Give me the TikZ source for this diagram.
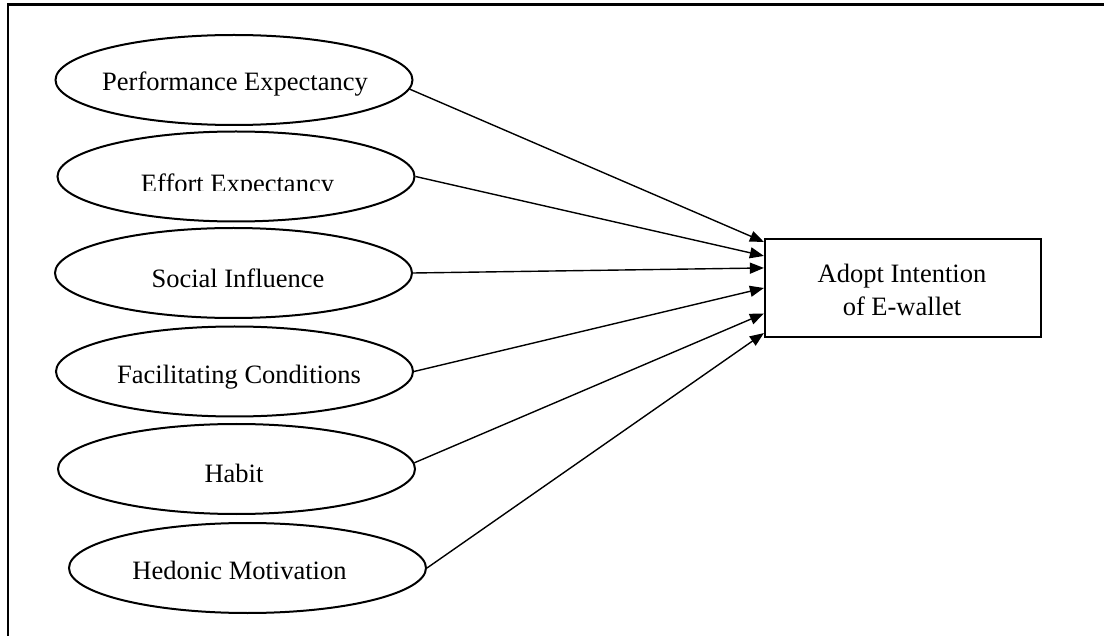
\documentclass[tikz,border=0pt]{standalone}
\usepackage{fontspec}
\setmainfont{Liberation Serif}
\usetikzlibrary{shapes.geometric,arrows.meta,calc}
\begin{document}
\begin{tikzpicture}[x=1pt,y=-1pt,
  construct/.style={draw,ellipse,line width=2pt,inner sep=0pt,minimum width=357pt,minimum height=90pt},
  lbl/.style={anchor=base,inner sep=0pt,font=\fontsize{26.5}{33}\selectfont},
  outcome/.style={draw,rectangle,line width=2.2pt,minimum width=276pt,minimum height=98pt,inner sep=0pt},
  path/.style={line width=1.4pt,-{Triangle[length=14pt,width=11pt]}}]
\useasboundingbox (0,0) rectangle (1104,636);
% outer frame
\draw[line width=2.2pt] (8,4.5) rectangle (1125,660);

% latent constructs
\node[construct] (pe) at (234,80) {};
\node[construct] (ee) at (236,176.5) {};
\node[construct] (si) at (233.5,273) {};
\node[construct] (fc) at (234.5,371.5) {};
\node[construct] (hb) at (236.5,469) {};
\node[construct] (hm) at (247.5,568) {};

\node[lbl] (pe-t) at (235,91) {Performance Expectancy};
\begin{scope}
  % the label's text box cuts off its lower edge
  \clip (0,150) rectangle (1104,191);
  \node[lbl] (ee-t) at (237.5,192.5) {Effort Expectancy};
\end{scope}
\node[lbl] (si-t) at (238,287.5) {Social Influence};
\node[lbl] (fc-t) at (239,384) {Facilitating Conditions};
\node[lbl] (hb-t) at (234,482.5) {Habit};
\node[lbl] (hm-t) at (239.5,579) {Hedonic Motivation};

% dependent variable
\node[outcome] (ai) at (903,288) {};
\node[lbl] (ai-t1) at (902,283) {Adopt Intention};
\node[lbl] (ai-t2) at (902,316) {of E-wallet};

% arrow targets on the left edge of the box
\coordinate (t1) at ($(ai.north west)!0.04!(ai.south west)$);
\coordinate (t2) at ($(ai.north west)!0.18!(ai.south west)$);
\coordinate (t3) at ($(ai.north west)!0.30!(ai.south west)$);
\coordinate (t4) at ($(ai.north west)!0.50!(ai.south west)$);
\coordinate (t5) at ($(ai.north west)!0.755!(ai.south west)$);
\coordinate (t6) at ($(ai.north west)!0.95!(ai.south west)$);

\draw[path] (pe.-3) -- (t1);
\draw[path] (ee.east) -- (t2);
\draw[path] (si.east) -- (t3);
\draw[path] (fc.east) -- (t4);
\draw[path] (hb.2) -- (t5);
\draw[path] (hm.east) -- (t6);
\end{tikzpicture}
\end{document}
